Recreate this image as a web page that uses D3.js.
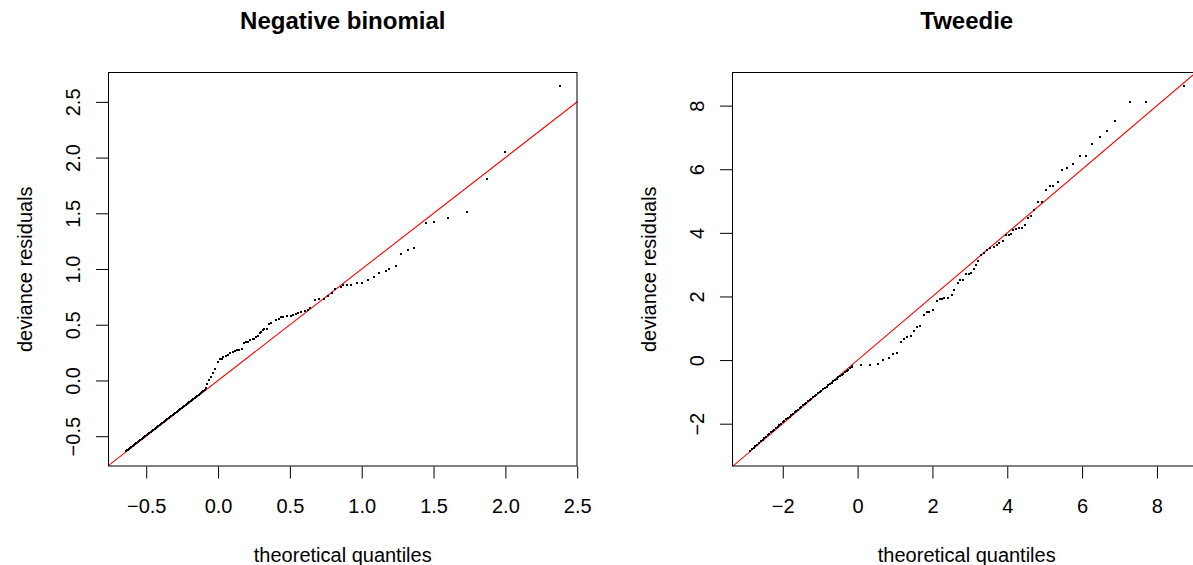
<!DOCTYPE html>
<html>
<head>
<meta charset="utf-8">
<script src="https://cdn.jsdelivr.net/npm/d3@7"></script>
<style>
  body { margin: 0; background: #fff; }
  text { font-family: "Liberation Sans", Arial, Helvetica, sans-serif; fill: #000; }
</style>
</head>
<body>
<svg id="chart" width="1193" height="565"></svg>
<script>
// ---------------- DATA ----------------
const titles = ["Negative binomial", "Tweedie"];
const xAxisLabel = "theoretical quantiles";
const yAxisLabel = "deviance residuals";

const nbTicks = [-0.5, 0, 0.5, 1, 1.5, 2, 2.5];
const twTicks = [-2, 0, 2, 4, 6, 8];

const nbXDomain = [-0.766, 2.502];
const nbYDomain = [-0.772, 2.768];
const twXDomain = [-3.357, 9.191];
const twYDomain = [-3.346, 9.057];

// Negative binomial: theoretical quantiles / deviance residuals
const nbTheoretical = [
  -0.643,-0.636,-0.628,-0.620,-0.611,-0.603,-0.594,-0.585,-0.577,-0.568,
  -0.559,-0.550,-0.541,-0.532,-0.523,-0.514,-0.505,-0.496,-0.487,-0.478,
  -0.469,-0.460,-0.451,-0.442,-0.433,-0.424,-0.415,-0.406,-0.397,-0.388,
  -0.379,-0.370,-0.361,-0.352,-0.343,-0.334,-0.325,-0.316,-0.307,-0.298,
  -0.289,-0.280,-0.271,-0.262,-0.253,-0.244,-0.235,-0.226,-0.217,-0.208,
  -0.199,-0.190,-0.181,-0.172,-0.163,-0.154,-0.145,-0.136,-0.127,-0.118,
  -0.110,-0.102,-0.094,-0.086,
  -0.074,-0.061,-0.049,-0.033,-0.020,-0.002,0.016,0.028,0.037,0.054,
  0.070,0.084,0.102,0.118,0.135,0.149,0.167,0.181,0.195,0.207,
  0.221,0.241,0.249,0.265,0.276,0.292,0.302,0.313,0.323,0.339,
  0.353,0.371,0.404,0.422,0.436,0.455,0.483,0.506,0.525,0.541,
  0.559,0.580,0.608,0.629,0.643,0.675,0.703,0.736,0.768,0.792,
  0.817,0.857,0.870,0.896,0.926,0.966,1.003,1.047,1.086,1.121,
  1.168,1.191,1.240,1.272,1.321,1.365,1.448,1.502,1.602,1.734,
  1.871,1.999,2.382
];
const nbResiduals = [
  -0.637,-0.628,-0.621,-0.612,-0.603,-0.596,-0.585,-0.577,-0.568,-0.560,
  -0.550,-0.541,-0.532,-0.524,-0.514,-0.505,-0.496,-0.488,-0.478,-0.469,
  -0.460,-0.451,-0.442,-0.434,-0.424,-0.415,-0.405,-0.397,-0.388,-0.378,
  -0.370,-0.361,-0.352,-0.342,-0.334,-0.325,-0.315,-0.306,-0.297,-0.289,
  -0.279,-0.270,-0.261,-0.252,-0.243,-0.234,-0.225,-0.216,-0.207,-0.198,
  -0.189,-0.180,-0.171,-0.162,-0.153,-0.144,-0.135,-0.126,-0.117,-0.108,
  -0.100,-0.091,-0.082,-0.072,
  -0.030,0.005,0.030,0.063,0.105,0.170,0.189,0.192,0.213,0.222,
  0.228,0.243,0.252,0.261,0.270,0.276,0.279,0.333,0.342,0.342,
  0.366,0.374,0.374,0.392,0.395,0.428,0.437,0.455,0.464,0.464,
  0.503,0.512,0.545,0.548,0.566,0.569,0.575,0.575,0.590,0.593,
  0.602,0.617,0.620,0.629,0.647,0.718,0.727,0.727,0.754,0.781,
  0.823,0.838,0.853,0.853,0.853,0.871,0.877,0.904,0.925,0.967,
  0.978,0.996,1.030,1.137,1.173,1.191,1.409,1.418,1.454,1.508,
  1.804,2.047,2.639
];

// Tweedie: theoretical quantiles / deviance residuals
const twTheoretical = [
  -2.865,-2.820,-2.775,-2.730,-2.680,-2.630,-2.585,-2.540,-2.495,-2.450,
  -2.405,-2.360,-2.315,-2.270,-2.225,-2.180,-2.135,-2.090,-2.045,-2.000,
  -1.955,-1.910,-1.865,-1.820,-1.775,-1.730,-1.685,-1.640,-1.595,-1.550,
  -1.505,-1.460,-1.415,-1.370,-1.325,-1.280,-1.235,-1.190,-1.145,-1.100,
  -1.055,-1.010,-0.965,-0.920,-0.875,-0.830,-0.785,-0.740,-0.695,-0.650,
  -0.605,-0.560,-0.515,-0.470,-0.425,-0.380,-0.335,-0.290,-0.245,-0.200,
  -0.160,-0.140,
  0.088,0.329,0.535,0.673,0.830,0.937,1.044,1.151,1.240,1.329,
  1.419,1.507,1.588,1.659,1.775,1.855,1.918,2.025,2.123,2.203,
  2.257,2.319,2.410,2.517,2.578,2.685,2.747,2.819,2.908,2.972,
  3.033,3.106,3.159,3.229,3.301,3.382,3.470,3.534,3.657,3.722,
  3.790,3.882,3.962,4.043,4.096,4.150,4.230,4.311,4.391,4.471,
  4.552,4.632,4.712,4.819,4.926,5.033,5.141,5.221,5.355,5.462,
  5.596,5.756,5.944,6.104,6.265,6.479,6.667,6.881,7.282,7.711,
  8.728
];
const twResiduals = [
  -2.865,-2.810,-2.760,-2.710,-2.655,-2.605,-2.555,-2.510,-2.460,-2.415,
  -2.370,-2.320,-2.275,-2.230,-2.185,-2.140,-2.090,-2.045,-2.000,-1.955,
  -1.910,-1.865,-1.822,-1.777,-1.732,-1.688,-1.643,-1.600,-1.555,-1.512,
  -1.467,-1.424,-1.380,-1.337,-1.294,-1.252,-1.210,-1.168,-1.126,-1.084,
  -1.042,-1.000,-0.958,-0.916,-0.874,-0.834,-0.793,-0.752,-0.711,-0.670,
  -0.629,-0.588,-0.547,-0.506,-0.465,-0.424,-0.383,-0.342,-0.300,-0.258,
  -0.215,-0.200,
  -0.170,-0.170,-0.138,0.014,0.050,0.176,0.208,0.553,0.648,0.711,
  0.742,0.899,1.025,1.057,1.403,1.497,1.519,1.560,1.843,1.906,
  1.918,1.937,1.937,2.053,2.189,2.409,2.503,2.503,2.692,2.692,
  2.723,2.849,2.975,3.101,3.289,3.352,3.469,3.509,3.563,3.604,
  3.690,3.752,3.918,3.918,3.950,4.097,4.129,4.160,4.160,4.233,
  4.453,4.516,4.726,4.968,4.968,5.333,5.459,5.459,5.607,5.962,
  6.025,6.173,6.403,6.425,6.802,7.022,7.189,7.525,8.101,8.123,
  8.604
];

// ---------------- DRAWING ----------------
const svg = d3.select("#chart");
svg.append("rect").attr("width", 1193).attr("height", 565).attr("fill", "#fff");

const panels = [
  { title: titles[0], xs: nbTheoretical, ys: nbResiduals, xd: nbXDomain, yd: nbYDomain,
    ticks: nbTicks, fmt: d3.format(".1f"), left: 108 },
  { title: titles[1], xs: twTheoretical, ys: twResiduals, xd: twXDomain, yd: twYDomain,
    ticks: twTicks, fmt: d3.format("d"), left: 732 }
];

const plotTop = 72, plotBottom = 466.5, boxW = 469.5;

panels.forEach((p, i) => {
  const x = d3.scaleLinear().domain(p.xd).range([p.left, p.left + boxW]);
  const y = d3.scaleLinear().domain(p.yd).range([plotBottom, plotTop]);
  const g = svg.append("g");

  const clipId = "clip" + i;
  svg.append("clipPath").attr("id", clipId)
    .append("rect").attr("x", p.left).attr("y", plotTop)
    .attr("width", boxW).attr("height", plotBottom - plotTop);

  // reference line y = x
  g.append("line")
    .attr("clip-path", `url(#${clipId})`)
    .attr("x1", x(-20)).attr("y1", y(-20))
    .attr("x2", x(20)).attr("y2", y(20))
    .attr("stroke", "#ff0000").attr("stroke-width", 1.1);

  // points
  const pts = p.xs.map((v, k) => [v, p.ys[k]]);
  g.append("g").attr("clip-path", `url(#${clipId})`)
    .attr("shape-rendering", "crispEdges")
    .selectAll("rect").data(pts).join("rect")
    .attr("x", d => x(d[0]) - 1).attr("y", d => y(d[1]) - 1)
    .attr("width", 2).attr("height", 2).attr("fill", "#000");

  // box
  g.append("rect")
    .attr("x", p.left + 0.5).attr("y", plotTop + 0.5)
    .attr("width", boxW - 1).attr("height", plotBottom - plotTop - 1)
    .attr("fill", "none").attr("stroke", "#000").attr("stroke-width", 1);

  // x axis
  const xa = g.append("g").attr("transform", `translate(0,${plotBottom})`)
    .call(d3.axisBottom(x).tickValues(p.ticks).tickFormat(p.fmt).tickSize(12).tickSizeOuter(0));
  xa.select(".domain").remove();
  xa.selectAll("line").attr("stroke", "#000");
  xa.selectAll("text").attr("y", 46).attr("dy", null)
    .attr("font-size", 20).attr("font-family", '"Liberation Sans", Arial, sans-serif').attr("fill", "#000");

  // y axis
  const ya = g.append("g").attr("transform", `translate(${p.left},0)`)
    .call(d3.axisLeft(y).tickValues(p.ticks).tickFormat(p.fmt).tickSize(12).tickSizeOuter(0));
  ya.select(".domain").remove();
  ya.selectAll("line").attr("stroke", "#000");
  ya.selectAll("text").attr("x", null).attr("dy", null)
    .attr("text-anchor", "middle")
    .attr("transform", "translate(-28,0) rotate(-90)")
    .attr("font-size", 20).attr("font-family", '"Liberation Sans", Arial, sans-serif').attr("fill", "#000");

  // title
  svg.append("text")
    .attr("x", p.left + boxW / 2).attr("y", 29)
    .attr("text-anchor", "middle").attr("font-size", 24).attr("font-weight", "bold")
    .text(p.title);

  // x label
  svg.append("text")
    .attr("x", p.left + boxW / 2).attr("y", 562)
    .attr("text-anchor", "middle").attr("font-size", 20)
    .text(xAxisLabel);

  // y label
  svg.append("text")
    .attr("transform", `translate(${p.left - 76},${(plotTop + plotBottom) / 2}) rotate(-90)`)
    .attr("text-anchor", "middle").attr("font-size", 20)
    .text(yAxisLabel);
});
</script>
</body>
</html>
